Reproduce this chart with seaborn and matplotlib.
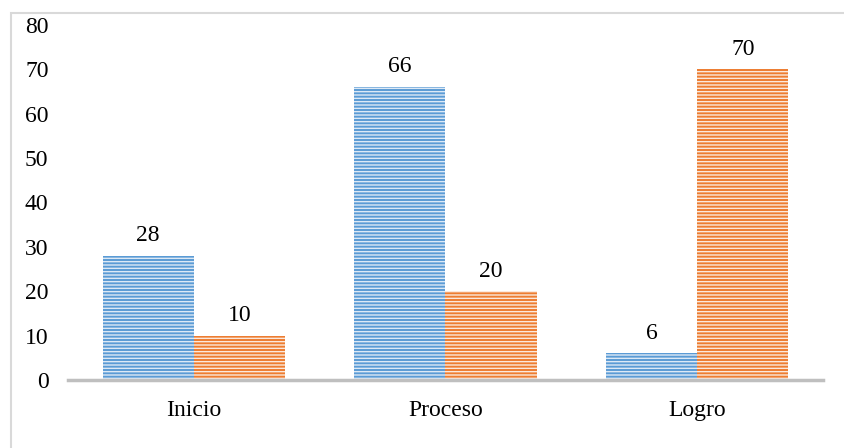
import pandas as pd
import numpy as np
import seaborn as sns
import matplotlib.pyplot as plt
from matplotlib.patches import Rectangle

categorias = ['Inicio', 'Proceso', 'Logro']
serie_1 = [28, 66, 6]
serie_2 = [10, 20, 70]
yticks = [0, 10, 20, 30, 40, 50, 60, 70, 80]

sns.set_theme(style='white')
plt.rcParams['font.family'] = ['Liberation Serif', 'DejaVu Serif']
plt.rcParams['text.color'] = 'black'
plt.rcParams['xtick.color'] = 'black'
plt.rcParams['ytick.color'] = 'black'
plt.rcParams['hatch.linewidth'] = 1.0

df = pd.DataFrame({'cat': categorias * 2,
                   'valor': serie_1 + serie_2,
                   'grupo': ['s1'] * 3 + ['s2'] * 3})

fig = plt.figure(figsize=(8.44, 4.48), dpi=100)
# marco gris claro
fig.patches.append(Rectangle((11 / 844, -0.1), 1.2, 1 - 13 / 448 + 0.1,
                             transform=fig.transFigure, fill=False,
                             edgecolor='#d9d9d9', linewidth=1.5))
ax = fig.add_axes([68 / 844, 1 - 380 / 448, (823 - 68) / 844, (380 - 25) / 448])

sns.barplot(data=df, x='cat', y='valor', hue='grupo', order=categorias,
            palette=['#5b9bd5', '#ed7d31'], width=0.725, gap=0, ax=ax,
            legend=False, saturation=1)

# rayado horizontal claro sobre las barras
for p in ax.patches:
    p.set_hatch('-----')
    p.set_edgecolor('#fbe9dd' if p.get_facecolor()[0] > 0.8 else '#dde9f6')
    p.set_linewidth(0)

for c in ax.containers:
    ax.bar_label(c, padding=7, fontsize=17, color='black')

ax.set_ylim(0, 80)
ax.set_xlim(-0.5, 2.5)
ax.set_yticks(yticks)
ax.set_xlabel('')
ax.set_ylabel('')
sns.despine(ax=ax, left=True, right=True, top=True)
ax.spines['bottom'].set_color('#bfbfbf')
ax.spines['bottom'].set_linewidth(2.5)
ax.tick_params(axis='y', length=0, pad=14, labelsize=17)
ax.tick_params(axis='x', length=0, pad=14.5, labelsize=17)

fig.savefig('out.png', dpi=100)
